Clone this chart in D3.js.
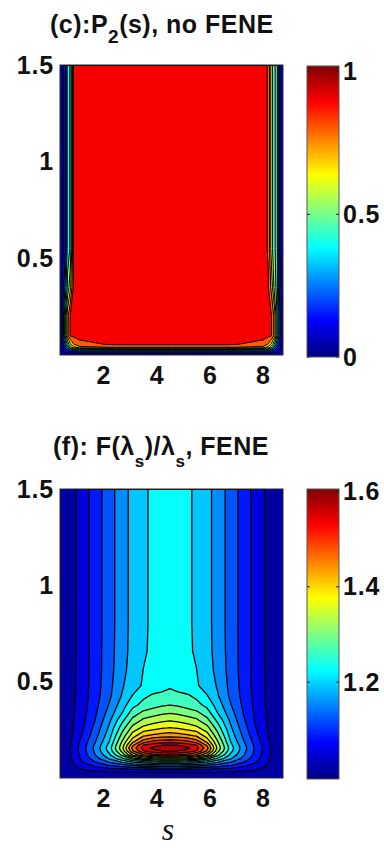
<!DOCTYPE html>
<html>
<head>
<meta charset="utf-8">
<title>P2(s) and F(λs)/λs contour maps</title>
<script src="https://cdn.jsdelivr.net/npm/d3@7/dist/d3.min.js"></script>
<style>
  html, body { margin: 0; padding: 0; background: #fff; }
  svg { display: block; }
  .lbl { font-family: "Liberation Sans", Arial, Helvetica, sans-serif; font-weight: bold; fill: #111; font-size: 25px; }
  .tick .lbl { letter-spacing: 0.8px; }
</style>
</head>
<body>
<svg id="fig" width="384" height="850"></svg>
<script>
// ---------- shared axes ----------
const sTicks = [2, 4, 6, 8];
const yTicks = [0.5, 1, 1.5];
const sDomain = [0.365, 8.755];
const yDomain = [0, 1.5];

// ---------- panel (c): P2(s), no FENE ----------
const p2S = [0.365, 0.45, 0.55, 0.65, 0.75, 0.87, 1.1, 2.5, 4.55, 6.6, 8.0, 8.2, 8.32, 8.43, 8.53, 8.63, 8.755];
const p2Y = [0, 0.012, 0.025, 0.04, 0.055, 0.075, 0.1, 0.2, 0.35, 0.55, 0.9, 1.2, 1.5];
// one row per p2Y value (bottom to top), one entry per p2S value
const p2Grid = [
  [0, 0, 0, 0, 0, 0, 0, 0, 0, 0, 0, 0, 0, 0, 0, 0, 0],
  [0, 0.01, 0.03, 0.052, 0.06, 0.07, 0.08, 0.08, 0.08, 0.08, 0.08, 0.07, 0.06, 0.052, 0.03, 0.01, 0],
  [0, 0.02, 0.08, 0.16, 0.23, 0.29, 0.33, 0.36, 0.36, 0.36, 0.33, 0.29, 0.23, 0.16, 0.09, 0.03, 0],
  [0, 0.04, 0.17, 0.34, 0.50, 0.62, 0.72, 0.76, 0.76, 0.76, 0.72, 0.62, 0.50, 0.34, 0.18, 0.06, 0],
  [0, 0.06, 0.25, 0.47, 0.63, 0.74, 0.82, 0.865, 0.865, 0.865, 0.82, 0.74, 0.63, 0.47, 0.26, 0.09, 0],
  [0, 0.08, 0.32, 0.56, 0.72, 0.80, 0.848, 0.87, 0.87, 0.87, 0.848, 0.80, 0.72, 0.56, 0.33, 0.12, 0],
  [0, 0.10, 0.42, 0.72, 0.856, 0.866, 0.87, 0.87, 0.87, 0.87, 0.87, 0.866, 0.852, 0.72, 0.45, 0.18, 0],
  [0, 0.10, 0.42, 0.72, 0.856, 0.866, 0.87, 0.87, 0.87, 0.87, 0.87, 0.866, 0.852, 0.72, 0.45, 0.18, 0],
  [0, 0.06, 0.25, 0.48, 0.62, 0.86, 0.87, 0.87, 0.87, 0.87, 0.87, 0.855, 0.72, 0.52, 0.40, 0.10, 0],
  [0, 0.03, 0.08, 0.40, 0.46, 0.855, 0.87, 0.87, 0.87, 0.87, 0.87, 0.845, 0.60, 0.47, 0.40, 0.04, 0],
  [0, 0.03, 0.08, 0.40, 0.46, 0.855, 0.87, 0.87, 0.87, 0.87, 0.87, 0.845, 0.60, 0.47, 0.40, 0.04, 0],
  [0, 0.03, 0.08, 0.40, 0.46, 0.855, 0.87, 0.87, 0.87, 0.87, 0.87, 0.845, 0.60, 0.47, 0.40, 0.04, 0],
  [0, 0.03, 0.08, 0.40, 0.46, 0.855, 0.87, 0.87, 0.87, 0.87, 0.87, 0.845, 0.60, 0.47, 0.40, 0.04, 0]
];
const p2Levels = [0.05, 0.15, 0.25, 0.35, 0.45, 0.55, 0.65, 0.75, 0.85, 0.95];
const p2Range = [0, 1.02];
const p2BarTicks = [0, 0.5, 1];

// ---------- panel (f): F(λs)/λs, FENE ----------
const feneS = [0.365, 0.75, 1.2, 1.7, 2.2, 2.7, 3.1, 3.5, 3.85, 4.2, 4.5, 4.8, 5.15, 5.5, 5.9, 6.3, 6.8, 7.3, 7.8, 8.3, 8.755];
const feneY = [0, 0.02, 0.04, 0.06, 0.08, 0.10, 0.12, 0.14, 0.155, 0.17, 0.19, 0.22, 0.26, 0.30, 0.34, 0.38, 0.43, 0.48, 0.56, 0.66, 0.8, 1.5];
const feneGrid = [
  [1.000,1.000,1.000,1.000,1.000,1.000,1.000,1.000,1.000,1.000,1.000,1.000,1.000,1.000,1.000,1.000,1.000,1.000,1.000,1.000,1.000],
  [1.000,1.007,1.012,1.014,1.015,1.015,1.015,1.015,1.015,1.015,1.015,1.015,1.015,1.015,1.015,1.015,1.015,1.014,1.012,1.007,1.000],
  [1.000,1.015,1.030,1.040,1.046,1.050,1.054,1.057,1.059,1.060,1.060,1.060,1.059,1.057,1.054,1.050,1.046,1.040,1.030,1.015,1.000],
  [1.000,1.022,1.050,1.072,1.092,1.108,1.120,1.130,1.136,1.139,1.141,1.139,1.136,1.130,1.120,1.108,1.092,1.072,1.050,1.022,1.000],
  [1.000,1.028,1.066,1.100,1.135,1.170,1.200,1.215,1.225,1.229,1.230,1.229,1.225,1.215,1.200,1.170,1.135,1.100,1.066,1.028,1.000],
  [1.000,1.031,1.077,1.125,1.176,1.235,1.290,1.330,1.351,1.358,1.360,1.358,1.351,1.330,1.290,1.235,1.176,1.125,1.077,1.031,1.000],
  [1.000,1.033,1.083,1.141,1.200,1.290,1.390,1.450,1.475,1.487,1.492,1.487,1.475,1.450,1.390,1.290,1.200,1.141,1.083,1.033,1.000],
  [1.000,1.034,1.087,1.148,1.218,1.325,1.450,1.520,1.547,1.559,1.565,1.559,1.547,1.520,1.450,1.325,1.218,1.148,1.087,1.034,1.000],
  [1.000,1.0352,1.089,1.151,1.224,1.338,1.468,1.539,1.568,1.582,1.588,1.582,1.568,1.539,1.468,1.338,1.224,1.151,1.089,1.0352,1.000],
  [1.000,1.033,1.086,1.147,1.218,1.331,1.449,1.526,1.543,1.5598,1.563,1.5598,1.543,1.526,1.449,1.331,1.218,1.147,1.086,1.033,1.000],
  [1.000,1.030,1.081,1.139,1.206,1.3155,1.408,1.470,1.496,1.505,1.510,1.505,1.496,1.470,1.408,1.3155,1.206,1.139,1.081,1.030,1.000],
  [1.000,1.027,1.072,1.128,1.193,1.292,1.368,1.415,1.428,1.436,1.440,1.436,1.428,1.415,1.368,1.292,1.193,1.128,1.072,1.027,1.000],
  [1.000,1.025,1.064,1.117,1.179,1.263,1.327,1.359,1.371,1.381,1.387,1.381,1.371,1.359,1.327,1.263,1.179,1.117,1.064,1.025,1.000],
  [1.000,1.024,1.058,1.107,1.165,1.235,1.290,1.322,1.333,1.342,1.347,1.342,1.333,1.322,1.290,1.235,1.165,1.107,1.058,1.024,1.000],
  [1.000,1.023,1.056,1.100,1.152,1.208,1.260,1.287,1.297,1.306,1.311,1.306,1.297,1.287,1.260,1.208,1.152,1.100,1.056,1.023,1.000],
  [1.000,1.022,1.053,1.095,1.1405,1.193,1.234,1.256,1.266,1.274,1.279,1.274,1.266,1.256,1.234,1.193,1.1405,1.095,1.053,1.022,1.000],
  [1.000,1.022,1.052,1.091,1.131,1.177,1.2105,1.236,1.248,1.252,1.255,1.252,1.248,1.236,1.2105,1.177,1.131,1.091,1.052,1.022,1.000],
  [1.000,1.021,1.051,1.089,1.128,1.171,1.195,1.214,1.223,1.232,1.240,1.232,1.223,1.214,1.195,1.171,1.128,1.089,1.051,1.021,1.000],
  [1.000,1.021,1.051,1.088,1.125,1.165,1.189,1.2105,1.220,1.230,1.238,1.230,1.220,1.2105,1.189,1.165,1.125,1.088,1.051,1.021,1.000],
  [1.000,1.021,1.050,1.088,1.124,1.162,1.186,1.205,1.217,1.227,1.236,1.227,1.217,1.205,1.186,1.162,1.124,1.088,1.050,1.021,1.000],
  [1.000,1.021,1.050,1.088,1.123,1.161,1.185,1.204,1.216,1.226,1.235,1.226,1.216,1.204,1.185,1.161,1.123,1.088,1.050,1.021,1.000],
  [1.000,1.021,1.050,1.088,1.123,1.161,1.185,1.204,1.216,1.226,1.235,1.226,1.216,1.204,1.185,1.161,1.123,1.088,1.050,1.021,1.000]
];
const feneLevels = [1.035, 1.070, 1.105, 1.140, 1.175, 1.210, 1.245, 1.280, 1.315, 1.350, 1.385, 1.420, 1.455, 1.490, 1.525, 1.560, 1.595];
const feneRange = [0.997, 1.605];
const feneBarTicks = [1.2, 1.4, 1.6];

// ---------- jet colour map ----------
const jetKnots = [0, 0.125, 0.375, 0.625, 0.875, 1];
const jetColours = ["#000080", "#0000ff", "#00ffff", "#ffff00", "#ff0000", "#800000"];
const jet = d3.scaleLinear().domain(jetKnots).range(jetColours).clamp(true);

const svg = d3.select("#fig");
const defs = svg.append("defs");
const plotX = [60, 283];
const barX = [307, 339];

function drawPanel(p) {
  const x = d3.scaleLinear().domain(sDomain).range(plotX);
  const y = d3.scaleLinear().domain(yDomain).range([p.bottom, p.top]);
  const toT = d3.scaleLinear().domain(p.range).range([0, 1]);
  const colour = v => jet(toT(v));

  // grid index -> data coordinate (non-uniform spacing)
  const n = p.s.length, m = p.y.length;
  const col = d3.scaleLinear().domain(d3.range(n)).range(p.s).clamp(true);
  const row = d3.scaleLinear().domain(d3.range(m)).range(p.y).clamp(true);
  const proj = d3.geoTransform({
    point(cx, cy) { this.stream.point(x(col(cx - 0.5)), y(row(cy - 0.5))); }
  });
  const path = d3.geoPath(proj);
  const flat = p.grid.flat();
  const bands = d3.contours().size([n, m]).thresholds(p.levels)(flat);
  const step = p.levels[1] - p.levels[0];

  const g = svg.append("g");
  const clipId = "clip-" + p.id;
  defs.append("clipPath").attr("id", clipId).append("rect")
    .attr("x", plotX[0]).attr("y", p.top)
    .attr("width", plotX[1] - plotX[0]).attr("height", p.bottom - p.top);

  const plot = g.append("g").attr("clip-path", `url(#${clipId})`);
  plot.append("rect")
    .attr("x", plotX[0]).attr("y", p.top)
    .attr("width", plotX[1] - plotX[0]).attr("height", p.bottom - p.top)
    .attr("fill", colour((d3.min(flat) + p.levels[0]) / 2));
  plot.selectAll("path.band").data(bands).join("path")
    .attr("class", "band")
    .attr("d", path)
    .attr("fill", d => colour(d.value + step / 2));
  plot.selectAll("path.iso").data(bands).join("path")
    .attr("class", "iso")
    .attr("d", path)
    .attr("fill", "none")
    .attr("stroke", "#000")
    .attr("stroke-width", p.lineWidth)
    .attr("stroke-linejoin", "round");

  g.append("rect")
    .attr("x", plotX[0]).attr("y", p.top)
    .attr("width", plotX[1] - plotX[0]).attr("height", p.bottom - p.top)
    .attr("fill", "none").attr("stroke", "#2b2b2b").attr("stroke-width", 1);

  // axes
  const ay = g.append("g").attr("transform", `translate(${plotX[0]},0)`)
    .call(d3.axisLeft(y).tickValues(yTicks).tickSize(0).tickPadding(6).tickFormat(d3.format("")));
  const ax = g.append("g").attr("transform", `translate(0,${p.bottom})`)
    .call(d3.axisBottom(x).tickValues(sTicks).tickSize(0).tickPadding(11).tickFormat(d3.format("d")));
  [ay, ax].forEach(a => {
    a.select(".domain").remove();
    a.attr("font-size", null).attr("font-family", null);
    a.selectAll("text").attr("class", "lbl").attr("fill", null);
  });

  // colour bar
  const gradId = "grad-" + p.id;
  const grad = defs.append("linearGradient").attr("id", gradId)
    .attr("x1", 0).attr("y1", 1).attr("x2", 0).attr("y2", 0);
  jetKnots.forEach((k, i) => grad.append("stop").attr("offset", k).attr("stop-color", jetColours[i]));
  const cb = d3.scaleLinear().domain(p.range).range([p.barBottom, p.barTop]);
  g.append("rect")
    .attr("x", barX[0]).attr("y", p.barTop)
    .attr("width", barX[1] - barX[0]).attr("height", p.barBottom - p.barTop)
    .attr("fill", `url(#${gradId})`)
    .attr("stroke", "#555").attr("stroke-width", 1);
  g.selectAll("g.cbtick").data(p.barTicks).join("g").attr("class", "cbtick").each(function (d) {
    const t = d3.select(this);
    t.append("line").attr("x1", barX[0]).attr("x2", barX[0] + 3)
      .attr("y1", cb(d)).attr("y2", cb(d)).attr("stroke", "#222");
    t.append("line").attr("x1", barX[1] - 3).attr("x2", barX[1])
      .attr("y1", cb(d)).attr("y2", cb(d)).attr("stroke", "#222");
  });
  const acb = g.append("g").attr("transform", `translate(${barX[1]},0)`)
    .call(d3.axisRight(cb).tickValues(p.barTicks).tickSize(0).tickPadding(4).tickFormat(p.barFormat));
  acb.select(".domain").remove();
  acb.attr("font-size", null).attr("font-family", null);
  acb.selectAll("text").attr("class", "lbl").attr("fill", null);

  // title
  const title = svg.append("text").attr("class", "lbl")
    .attr("x", p.titleX).attr("y", p.titleY).style("letter-spacing", "0.5px");
  p.title.forEach(part => {
    const ts = title.append("tspan").text(part.text);
    if (part.sub) ts.attr("dy", part.sub).style("font-size", part.size + "px");
    if (part.dx) ts.attr("dx", part.dx);
  });
}

drawPanel({
  id: "p2", s: p2S, y: p2Y, grid: p2Grid, levels: p2Levels, range: p2Range,
  top: 65, bottom: 355, barTop: 66, barBottom: 357, lineWidth: 1.0,
  barTicks: p2BarTicks, barFormat: d3.format(""),
  titleX: 50, titleY: 33,
  title: [
    { text: "(c):P" },
    { text: "2", sub: 9.5, size: 19 },
    { text: "(s), no FENE", sub: -9.5, size: 25 }
  ]
});

drawPanel({
  id: "fene", s: feneS, y: feneY, grid: feneGrid, levels: feneLevels, range: feneRange,
  top: 489, bottom: 778, barTop: 489, barBottom: 779, lineWidth: 1.3,
  barTicks: feneBarTicks, barFormat: d3.format(".1f"),
  titleX: 53, titleY: 455,
  title: [
    { text: "(f): F(λ" },
    { text: "s", sub: 12, size: 17 },
    { text: ")/λ", sub: -12, size: 25 },
    { text: "s", sub: 12, size: 17 },
    { text: ", FENE", sub: -12, size: 25 }
  ]
});

// abscissa label
svg.append("text")
  .attr("x", 168).attr("y", 840)
  .attr("text-anchor", "middle")
  .style("font-family", "'Liberation Serif', 'DejaVu Serif', serif")
  .style("font-style", "italic")
  .style("font-size", "32px")
  .attr("fill", "#111")
  .text("s");
</script>
</body>
</html>
